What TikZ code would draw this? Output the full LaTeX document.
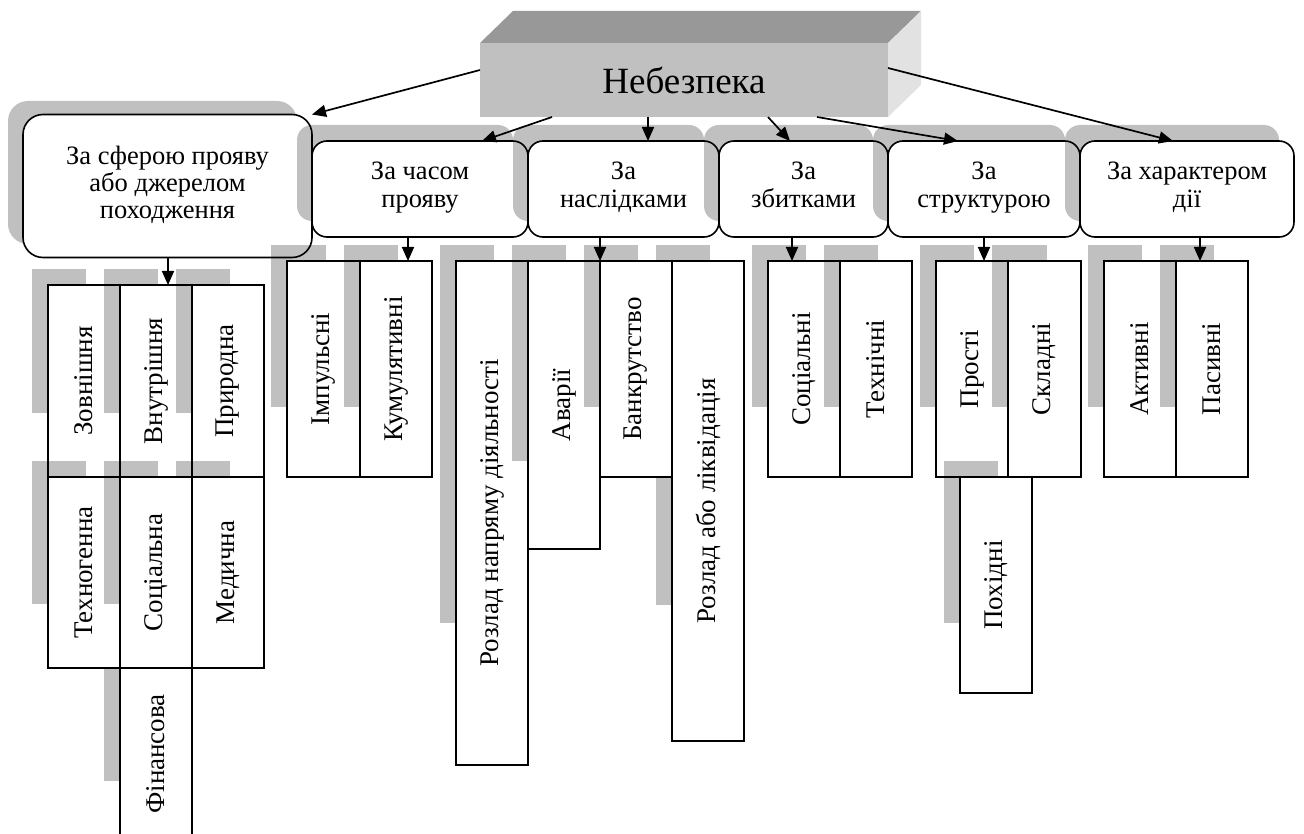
\documentclass[tikz,border=0pt]{standalone}
\usepackage{fontspec}
\setmainfont{Liberation Serif}
\newfontfamily\tnr{Liberation Serif}
\usetikzlibrary{arrows.meta,calc}
\definecolor{shd}{RGB}{192,192,192}
\definecolor{frontc}{RGB}{192,192,192}
\definecolor{topc}{RGB}{152,152,152}
\definecolor{sidec}{RGB}{226,226,226}
% level-3 box: name, x0, y0, w, h  (shadow + white fill)
\newcommand{\shbox}[5]{%
  \fill[shd] (#2-16,#3-16) rectangle ++(0.75*#4,0.75*#5);
  \node[fillbox, minimum width=#4pt, minimum height=#5pt] (#1) at (#2+#4/2,#3+#5/2) {};}
% level-3 border and label
\newcommand{\bordlab}[2]{%
  \draw[bord] (#1.north west) rectangle (#1.south east);
  \node[vtext] at (#1) {#2};}
% level-2 box: name, cx, cy, w, h, text
\newcommand{\lvtwo}[6]{%
  \fill[shd, rounded corners=15pt] (#2-#4/2-15,#3-#5/2-16) rectangle ++(#4,#5);
  \node[l2box, minimum width=#4pt, minimum height=#5pt] (#1) at (#2,#3) {#6};}
\begin{document}
\begin{tikzpicture}[x=1pt,y=-1pt,
  fillbox/.style={inner sep=0pt, outer sep=0pt, fill=white, draw=none},
  bord/.style={line width=1.6pt, draw=black},
  vtext/.style={rotate=90, inner sep=0pt, font=\tnr\fontsize{27}{30}\selectfont},
  l2box/.style={inner sep=0pt, outer sep=0pt, fill=white, draw=none, rounded corners=15pt,
    align=center, font=\tnr\fontsize{26.5}{28.5}\selectfont,
    execute at begin node=\strut, execute at end node=\strut},
  topbox/.style={inner sep=0pt, outer sep=0pt, fill=frontc, minimum width=408pt,
    minimum height=74pt, font=\tnr\fontsize{37}{40}\selectfont},
  arr/.style={line width=1.7pt, -{Triangle[width=12pt,length=14pt]}}]
\useasboundingbox (0,0) rectangle (1304,834);
\clip (0,0) rectangle (1304,834);

% ---- top 3D box
\node[topbox] (top) at (684,80) {Небезпека};
\fill[topc] (top.north west) -- ++(33,-32) -- ++(408,0) -- (top.north east) -- cycle;
\fill[sidec] (top.north east) -- ++(33,-32) -- ++(0,74) -- (top.south east) -- cycle;

% ---- level 2 shadows and fills
\fill[shd, rounded corners=20pt] (8,101) rectangle ++(289,143);
\node[l2box, rounded corners=20pt, minimum width=289pt, minimum height=143pt,
  font=\tnr\fontsize{26.5}{27}\selectfont] (b1) at (167.5,186)
  {За сферою прояву\\або джерелом\\походження};
\lvtwo{b2}{420}{189}{216}{96}{За часом\\прояву}
\lvtwo{b3}{623.5}{189}{191}{96}{За\\наслідками}
\lvtwo{b4}{803.5}{189}{169}{96}{За\\збитками}
\lvtwo{b5}{984}{189}{192}{96}{За\\структурою}
\lvtwo{b6}{1187}{189}{214}{96}{За характером\\дії}

% ---- level 3 shadows and fills
\shbox{zov}{48}{285}{72}{192}
\shbox{vnu}{120}{285}{72}{192}
\shbox{pry}{192}{285}{72}{192}
\shbox{med}{192}{477}{72}{191}
\shbox{fin}{120}{668}{72}{172}
\shbox{teh}{48}{477}{72}{191}
\shbox{soc}{120}{477}{72}{191}

\shbox{imp}{287}{261}{73}{216}
\shbox{kum}{360}{261}{72}{216}

\shbox{rnd}{456}{261}{72}{504}
\shbox{ava}{528}{261}{72}{288}
\shbox{rl}{672}{261}{72}{480}
\shbox{ban}{600}{261}{72}{216}

\shbox{socl}{768}{261}{72}{216}
\shbox{tech}{840}{261}{72}{216}

\shbox{pro}{936}{261}{72}{216}
\shbox{skl}{1008}{261}{73}{216}
\shbox{poh}{960}{477}{72}{216}

\shbox{akt}{1104}{261}{72}{216}
\shbox{pas}{1176}{261}{72}{216}

% ---- level 2 borders
\draw[bord, rounded corners=20pt] (b1.north west) rectangle (b1.south east);
\foreach \b in {b2,b3,b4,b5,b6}
  \draw[bord, rounded corners=15pt] (\b.north west) rectangle (\b.south east);

% ---- level 3 borders and labels
\bordlab{zov}{Зовнішня}
\bordlab{vnu}{Внутрішня}
\bordlab{pry}{Природна}
\bordlab{teh}{Техногенна}
\bordlab{soc}{Соціальна}
\bordlab{med}{Медична}
\bordlab{fin}{Фінансова}
\bordlab{imp}{Імпульсні}
\bordlab{kum}{Кумулятивні}
\bordlab{rnd}{Розлад напряму діяльності}
\bordlab{ava}{Аварії}
\bordlab{ban}{Банкрутство}
\bordlab{rl}{Розлад або ліквідація}
\bordlab{socl}{Соціальні}
\bordlab{tech}{Технічні}
\bordlab{pro}{Прості}
\bordlab{skl}{Складні}
\bordlab{poh}{Похідні}
\bordlab{akt}{Активні}
\bordlab{pas}{Пасивні}

% ---- arrows from the top box
\draw[arr] ($(top.west)+(0,-10)$) -- (b1.north east);
\draw[arr] ($(top.south west)+(72,0)$) -- ($(b2.north west)+(170,0)$);
\draw[arr] ($(top.south west)+(168,0)$) -- ($(b3.north west)+(120,0)$);
\draw[arr] ($(top.south west)+(288,0)$) -- ($(b4.north west)+(71,0)$);
\draw[arr] ($(top.south west)+(337,0)$) -- ($(b5.north west)+(70,0)$);
\draw[arr] ($(top.east)+(0,-12)$) -- ($(b6.north west)+(93,0)$);

% ---- arrows to level 3
\path ($(vnu.north west)+(48,0)$) coordinate (t1);
\draw[arr] (b1.south -| t1) -- (t1);
\path ($(kum.north west)+(48,0)$) coordinate (t2);
\draw[arr] (b2.south -| t2) -- (t2);
\path (ban.north west) coordinate (t3);
\draw[arr] (b3.south -| t3) -- (t3);
\path ($(socl.north west)+(24,0)$) coordinate (t4);
\draw[arr] (b4.south -| t4) -- (t4);
\path ($(pro.north west)+(48,0)$) coordinate (t5);
\draw[arr] (b5.south -| t5) -- (t5);
\path ($(pas.north west)+(24,0)$) coordinate (t6);
\draw[arr] (b6.south -| t6) -- (t6);
\end{tikzpicture}
\end{document}
